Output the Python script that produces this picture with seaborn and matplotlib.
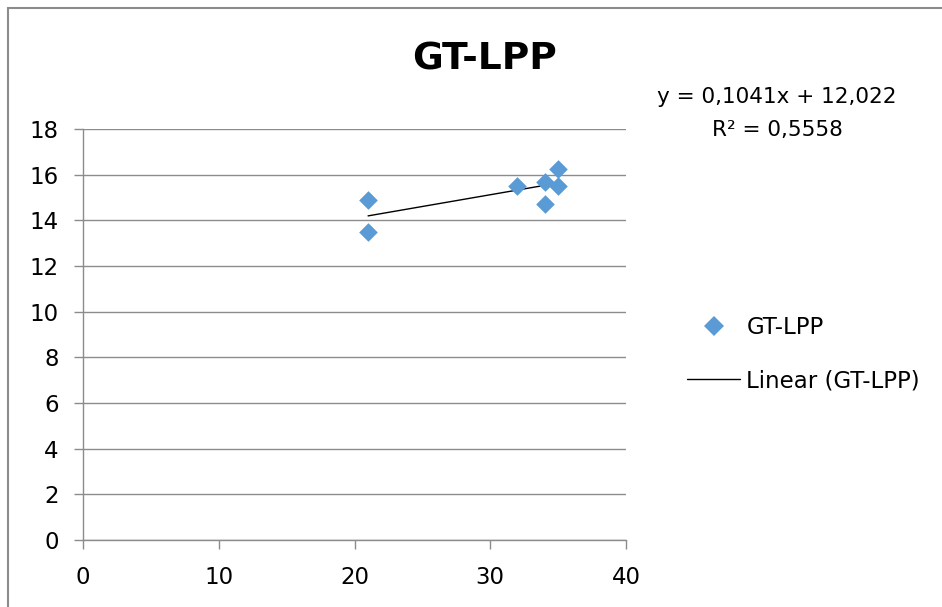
import matplotlib
matplotlib.use("Agg")
import matplotlib.pyplot as plt
from matplotlib.lines import Line2D
from matplotlib.patches import Rectangle
import seaborn as sns
import pandas as pd

# Data
x_vals = [21, 21, 32, 34, 34, 35, 35]
y_vals = [14.9, 13.5, 15.5, 15.7, 14.7, 16.25, 15.5]
x_ticks = [0, 10, 20, 30, 40]
y_ticks = [0, 2, 4, 6, 8, 10, 12, 14, 16, 18]
series_name = "GT-LPP"
trend_label = "Linear (GT-LPP)"
equation_text = "y = 0,1041x + 12,022"
r2_text = "R² = 0,5558"

sns.set_theme(style="white")
plt.rcParams["font.family"] = ["DejaVu Sans"]

df = pd.DataFrame({"x": x_vals, "y": y_vals})

fig = plt.figure(figsize=(9.42, 6.07), dpi=100)
ax = fig.add_axes([83 / 942, 1 - 540 / 607, (626 - 83) / 942, (540 - 129) / 607])

blue = "#5B9BD5"
grid_c = "#8c8c8c"

sns.regplot(data=df, x="x", y="y", scatter=False, ci=None, ax=ax,
            line_kws={"color": "black", "lw": 1.0}, truncate=True)
sns.scatterplot(data=df, x="x", y="y", marker="D", s=90, color=blue,
                edgecolor=blue, linewidth=0, ax=ax, zorder=3)

ax.set_xlim(0, 40)
ax.set_ylim(0, 18)
ax.set_xticks(x_ticks)
ax.set_yticks(y_ticks)
ax.set_xlabel("")
ax.set_ylabel("")
ax.yaxis.grid(True, color=grid_c, lw=1)
ax.xaxis.grid(False)
ax.set_axisbelow(True)
for s in ["top", "right"]:
    ax.spines[s].set_visible(False)
for s in ["left", "bottom"]:
    ax.spines[s].set_color(grid_c)
    ax.spines[s].set_linewidth(1)
ax.tick_params(axis="both", which="both", direction="out", length=6.5, width=1,
               color=grid_c, labelsize=16.5, labelcolor="black",
               left=True, bottom=True)
ax.tick_params(axis="x", pad=12)
ax.tick_params(axis="y", pad=11)

fig.text(485 / 942, 1 - 59 / 607, series_name, ha="center", va="center",
         fontsize=27, fontweight="bold", color="black")
fig.text(777 / 942, 1 - 97 / 607, equation_text, ha="center", va="center",
         fontsize=15.5, color="black")
fig.text(777 / 942, 1 - 130 / 607, r2_text, ha="center", va="center",
         fontsize=15.5, color="black")

handles = [
    Line2D([], [], marker="D", color=blue, linestyle="none", markersize=10,
           markeredgewidth=0),
    Line2D([], [], color="black", lw=1),
]
fig.legend(handles, [series_name, trend_label], loc="center left",
           bbox_to_anchor=(666 / 942, 1 - 354 / 607), frameon=False,
           fontsize=16.5, handlelength=2.35, handletextpad=0.26,
           labelspacing=1.35, labelcolor="black")

fig.patches.append(Rectangle((8 / 942, -0.1), 1.2, 1 - 8 / 607 + 0.1,
                             transform=fig.transFigure, fill=False,
                             edgecolor="#8c8c8c", lw=1.5))

fig.savefig("out.png", dpi=100)
